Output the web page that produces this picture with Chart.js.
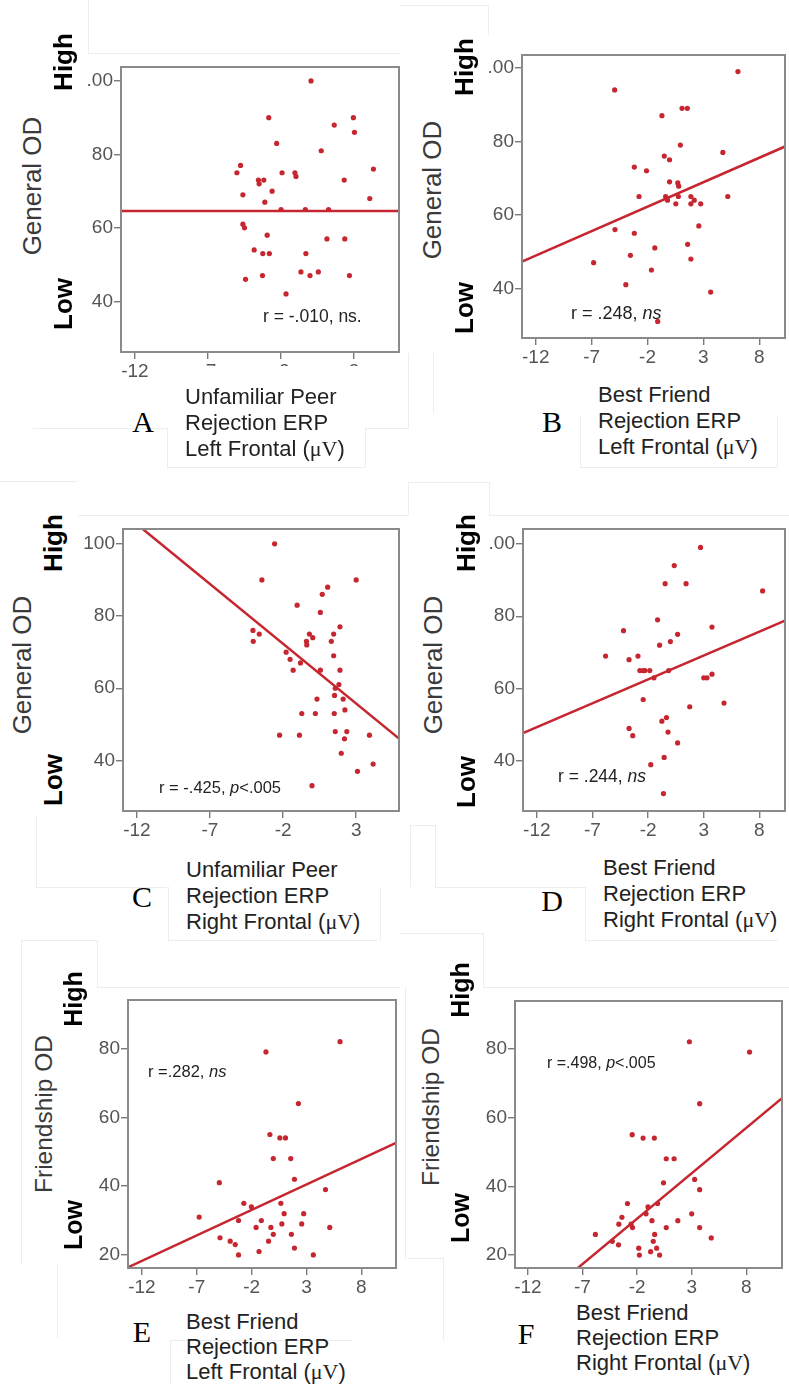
<!DOCTYPE html>
<html><head><meta charset="utf-8">
<script src="https://cdn.jsdelivr.net/npm/chart.js@4.4.0/dist/chart.umd.min.js"></script>
<style>
html,body{margin:0;padding:0;background:#fff;}
#page{position:relative;width:789px;height:1384px;overflow:hidden;background:#fff;font-family:'Liberation Sans',Arial,sans-serif;}
.pc{position:absolute;z-index:1;}
.t{position:absolute;white-space:nowrap;line-height:1;transform:translate(-50%,-50%);z-index:3;}
.rot{transform:translate(-50%,-50%) rotate(-90deg);}
.od{color:#3a3a3a;}
.hl{font-weight:bold;color:#000;}
.ttl{position:absolute;white-space:nowrap;font-size:22px;line-height:26px;color:#222;z-index:3;}
.sf{font-family:'Liberation Serif','Times New Roman',serif;}
.let{font-family:'Liberation Serif','Times New Roman',serif;font-size:30px;color:#000;}
.r{position:absolute;white-space:nowrap;line-height:1;color:#222;transform:translateY(-50%);z-index:3;}
.fl{position:absolute;background:#ededed;z-index:0;}
.wh{position:absolute;background:#fff;z-index:2;}
</style></head>
<body><div id="page"></div>
<script>
// ---------- DATA ----------
const xTicks4 = [-12, -7, -2, 3];
const xTicks5 = [-12, -7, -2, 3, 8];
const xLabels4 = ['-12', '-7', '-2', '3'];
const xLabels5 = ['-12', '-7', '-2', '3', '8'];
const yTicksGeneral = [40, 60, 80, 100];
const yLabelsGeneralCut = ['40', '60', '80', '.00'];
const yLabelsGeneral = ['40', '60', '80', '100'];
const yTicksFriend = [20, 40, 60, 80];
const yLabelsFriend = ['20', '40', '60', '80'];

// Panel A: Unfamiliar Peer, Left Frontal vs General OD
const aX = [0.05,-2.84,2.95,1.64,3.02,-2.30,0.75,-4.77,-5.02,-1.93,-1.05,-0.98,4.32,-3.55,-3.18,-3.5,2.32,-2.61,-4.61,4.07,-3.11,-2.0,-0.34,1.25,-4.61,-4.5,-2.95,1.14,2.36,-3.84,-3.25,-2.80,-0.30,-0.64,0.55,-0.02,-3.27,2.68,-4.43,-1.66];
const aY = [100,90,90,88,86,83,81,77,75,75,75,74,76,73,73,72,73,70,69,68,67,65,65,65,61,60,58,57,57,54,53,53,53,48,48,47,47,47,46,42];
const aFitX = [-12.95, 6.07];
const aFitY = [64.6, 64.6];

// Panel B: Best Friend, Left Frontal vs General OD
const bX = [6.09,-4.94,1.09,1.56,-0.71,0.94,4.74,-0.5,-0.03,-3.18,-2.09,-0.03,0.71,0.79,-2.76,-0.38,-0.21,0.76,1.88,2.18,5.18,0.53,1.88,2.76,2.59,-4.91,-3.18,1.59,-1.35,1.88,-3.53,-6.82,-1.65,-3.94,3.65,-1.09];
const bY = [99,94,89,89,87,79,77,76,75,73,72,69,68.7,67.8,65,65,64,65,65,64,65,63,63,63,57,56,55,52,51,48,49,47,45,41,39,31];
const bFitX = [-13.23, 10.3];
const bFitY = [47.3, 78.6];

// Panel C: Unfamiliar Peer, Right Frontal vs General OD
const cX = [-2.58,-3.45,3.0,1.05,0.68,-1.04,0.55,1.89,-4.06,-3.63,-0.2,0.03,1.46,-4.04,-0.4,-0.38,1.3,-1.79,-1.52,1.46,-0.81,-1.31,0.55,1.89,1.82,1.57,1.52,2.11,0.32,2.23,-0.72,0.21,1.5,2.36,1.57,-2.24,-0.88,3.91,2.2,1.98,4.16,3.09,-0.02];
const cY = [100,90,90,88,86,83,81,77,76,75,75,74,75,73,73,72,73,70,68,69,67,65,65,65,61,60,58,57,57,54,53,53,53,48,48,47,47,47,46,42,39,37,33];
const cFitX = [-11.6, 5.93];
const cFitY = [104.1, 46.05];

// Panel D: Best Friend, Right Frontal vs General OD
const dX = [2.71,0.35,-0.47,1.41,8.29,-1.15,3.74,-4.21,0.65,0.0,-0.97,-5.82,-2.91,-3.71,-2.74,-2.44,-2.29,-1.85,-0.15,-1.47,3.0,3.29,3.74,-2.44,1.74,4.82,-0.35,-0.76,-3.71,-3.38,-0.21,0.65,-0.56,-1.76,-0.62];
const dY = [99,94,89,89,87,79,77,76,75,73,72,69,69,68,65,65,65,65,65,63,63,63,64,57,55,56,52,51,49,47,48,45,41,39,31];
const dFitX = [-13.24, 10.3];
const dFitY = [47.7, 78.8];

// Panel E: Best Friend, Left Frontal vs Friendship OD
const eX = [6.07,-0.69,2.27,-0.33,0.58,1.09,-0.02,1.57,1.91,-4.94,4.74,-2.71,0.67,-2.02,-6.78,0.97,2.75,-3.19,-1.11,0.76,2.57,-1.59,-0.24,5.13,-0.02,1.63,-4.88,-3.95,-3.49,-0.45,1.91,-1.32,-3.19,3.63];
const eY = [82,79,64,55,54,54,48,48,42,41,39,35,35,34,31,32,32,30,30,29,29,28,28,28,26,26,25,24,23,24,22,21,20,20];
const eFitX = [-13.27, 11.17];
const eFitY = [16.4, 52.6];

// Panel F: Best Friend, Right Frontal vs Friendship OD
const fX = [2.79,8.3,3.73,-2.45,-1.45,-0.42,0.67,1.39,0.42,3.27,3.73,-2.88,-0.12,-1.0,-1.18,3.0,-3.39,-3.67,-2.55,-0.64,1.73,-2.42,0.67,3.73,-5.82,-0.39,4.79,-4.27,-0.52,-3.7,-1.85,-0.21,-0.76,-1.79,0.06];
const fY = [82,79,64,55,54,54,48,48,41,42,39,35,35,34,32,32,31,29,29,30,30,28,28,28,26,26,25,24,24,23,22,22,21,20,20];
const fFitX = [-7.45, 11.27];
const fFitY = [16.2, 65.6];

// ---------- LAYOUT ----------
const RED = '#c62630';
const FONT = "'Liberation Sans', Arial, sans-serif";
const YW = 46, XH = 30, PT = 2;
const page = document.getElementById('page');

const panels = [
  {box:{L:121,T:65,R:401,B:352}, xr:[-12.95,6.07], yr:[26.2,103.8], xt:xTicks4, xl:xLabels4, yt:yTicksGeneral, yl:yLabelsGeneralCut, px:aX, py:aY, lx:aFitX, ly:aFitY, edge:false},
  {box:{L:522,T:53,R:789,B:338}, xr:[-13.23,10.3], yr:[26.5,103.5], xt:xTicks5, xl:xLabels5, yt:yTicksGeneral, yl:yLabelsGeneralCut, px:bX, py:bY, lx:bFitX, ly:bFitY, edge:true},
  {box:{L:123,T:527,R:401,B:811}, xr:[-12.95,5.93], yr:[26.0,104.1], xt:xTicks4, xl:xLabels4, yt:yTicksGeneral, yl:yLabelsGeneral, px:cX, py:cY, lx:cFitX, ly:cFitY, edge:false},
  {box:{L:523,T:527,R:789,B:811}, xr:[-13.24,10.3], yr:[26.2,104.1], xt:xTicks5, xl:xLabels5, yt:yTicksGeneral, yl:yLabelsGeneralCut, px:dX, py:dY, lx:dFitX, ly:dFitY, edge:true},
  {box:{L:128,T:998,R:398,B:1268}, xr:[-13.27,11.17], yr:[16.2,94.1], xt:xTicks5, xl:xLabels5, yt:yTicksFriend, yl:yLabelsFriend, px:eX, py:eY, lx:eFitX, ly:eFitY, edge:false},
  {box:{L:515,T:999,R:784,B:1268}, xr:[-13.18,11.27], yr:[16.25,93.85], xt:xTicks5, xl:xLabels5, yt:yTicksFriend, yl:yLabelsFriend, px:fX, py:fY, lx:fFitX, ly:fFitY, edge:false}
];

const boxPlugin = {
  id: 'frame',
  afterDraw(chart) {
    const a = chart.chartArea, ctx = chart.ctx;
    ctx.save();
    ctx.strokeStyle = '#8a8a8a';
    ctx.lineWidth = 2;
    ctx.strokeRect(a.left, a.top, a.right - a.left, a.bottom - a.top);
    ctx.restore();
  }
};

function axis(min, max, ticks, labels, isX) {
  return {
    type: 'linear', min: min, max: max,
    afterBuildTicks: s => { s.ticks = ticks.map(v => ({value: v})); },
    afterFit: s => {
      if (isX) s.height = XH; else s.width = YW;
      s.paddingTop = 0; s.paddingBottom = 0; s.paddingLeft = 0; s.paddingRight = 0;
    },
    grid: {drawOnChartArea: false, drawTicks: true, tickLength: 7, color: '#7a7a7a', lineWidth: 1.4},
    border: {display: false},
    ticks: {
      autoSkip: false, maxRotation: 0, padding: 1,
      color: '#555', font: {family: FONT, size: 19},
      callback: v => { const i = ticks.indexOf(v); return i >= 0 ? labels[i] : ''; }
    }
  };
}

panels.forEach(p => {
  const padR = p.edge ? 0 : 2;
  const w = p.box.R - p.box.L + YW + padR;
  const h = p.box.B - p.box.T + PT + XH;
  const wrap = document.createElement('div');
  wrap.className = 'pc';
  wrap.style.left = (p.box.L - YW) + 'px';
  wrap.style.top = (p.box.T - PT) + 'px';
  wrap.style.width = w + 'px';
  wrap.style.height = h + 'px';
  const cv = document.createElement('canvas');
  cv.width = w; cv.height = h;
  cv.style.width = w + 'px'; cv.style.height = h + 'px';
  wrap.appendChild(cv);
  page.appendChild(wrap);
  new Chart(cv, {
    type: 'scatter',
    data: {datasets: [
      {data: p.px.map((x, i) => ({x: x, y: p.py[i]})), pointRadius: 2.6, pointBackgroundColor: RED, pointBorderWidth: 0, showLine: false},
      {data: p.lx.map((x, i) => ({x: x, y: p.ly[i]})), showLine: true, borderColor: RED, borderWidth: 2.5, pointRadius: 0, fill: false}
    ]},
    options: {
      responsive: false, animation: false, devicePixelRatio: 1, events: [],
      layout: {padding: {top: PT, right: padR, left: 0, bottom: 0}},
      plugins: {legend: {display: false}, tooltip: {enabled: false}},
      scales: {
        x: axis(p.xr[0], p.xr[1], p.xt, p.xl, true),
        y: axis(p.yr[0], p.yr[1], p.yt, p.yl, false)
      }
    },
    plugins: [boxPlugin]
  });
});

// ---------- TEXT ----------
function add(cls, html, x, y, size, extra) {
  const d = document.createElement('div');
  d.className = cls;
  d.innerHTML = html;
  d.style.left = x + 'px';
  d.style.top = y + 'px';
  if (size) d.style.fontSize = size + 'px';
  if (extra) Object.assign(d.style, extra);
  page.appendChild(d);
}
const mu = '(<span class="sf">μV</span>)';
const texts = [
  ['General OD',32,186,26, 63,62, 63,304,26, 'A',143,422, ['Unfamiliar Peer','Rejection ERP','Left Frontal '+mu],185,384,26, 'r = -.010, ns.',263,317,17.5],
  ['General OD',432,190,26, 464,67, 464,308,26, 'B',552,422, ['Best Friend','Rejection ERP','Left Frontal '+mu],598,382,26, 'r = .248, <i>ns</i>',571,313,18],
  ['General OD',22,665,26, 53,543, 53,780,26, 'C',142,897, ['Unfamiliar Peer','Rejection ERP','Right Frontal '+mu],186,857,26, 'r = -.425, <i>p</i>&lt;.005',159,787,16.5],
  ['General OD',433,665,26, 466,543, 466,782,26, 'D',552,901, ['Best Friend','Rejection ERP','Right Frontal '+mu],603,855,26, 'r = .244, <i>ns</i>',558,777,17.5],
  ['Friendship OD',44,1114,24.5, 73,999, 73,1225,25, 'E',142,1332, ['Best Friend','Rejection ERP','Left Frontal '+mu],186,1309,25, 'r =.282, <i>ns</i>',148,1071,16.5],
  ['Friendship OD',431,1107,24.5, 460,990, 460,1218,25, 'F',526,1334, ['Best Friend','Rejection ERP','Right Frontal '+mu],576,1300,25, 'r =.498, <i>p</i>&lt;.005',547,1063,16]
];
texts.forEach(t => {
  add('t rot od', t[0], t[1], t[2], t[3]);
  add('t rot hl', 'High', t[4], t[5], t[8]);
  add('t rot hl', 'Low', t[6], t[7], t[8]);
  add('t let', t[9], t[10], t[11]);
  add('ttl', t[12].join('<br>'), t[13], t[14], null, {lineHeight: t[15] + 'px'});
  add('r', t[16], t[17], t[18], t[19]);
});

// white text-box covering part of panel A's tick labels
add('wh', '', 165, 366, null, {width: '235px', height: '16px'});

// faint text-box outlines
const faint = [
  [88,0,88,53],[88,53,400,53],
  [400,5,488,5],[488,5,488,35],
  [408,353,408,428],[400,428,408,428],[433,353,433,413],
  [580,417,580,467],[580,467,777,467],[777,417,777,467],
  [33,428,167,428],[167,428,167,467],[167,467,365,467],[365,428,365,467],[365,428,400,428],
  [0,481,77,481],[78,515,400,515],
  [36,817,36,887],[36,887,167,887],[168,887,168,940],[168,940,378,940],[380,887,380,940],
  [408,482,489,482],[408,482,408,515],[489,482,489,515],[400,515,408,515],[489,515,789,515],
  [410,825,410,887],[410,825,435,825],[435,825,435,887],[435,887,585,887],[585,887,585,940],[585,940,778,940],
  [21,940,21,1265],[21,940,97,940],[97,940,97,987],[97,987,400,987],[57,1265,57,1338],
  [170,1340,170,1384],[170,1340,353,1340],
  [400,933,483,933],[483,933,483,987],[483,987,789,987],[405,987,405,1258],[408,1258,443,1258],[443,1258,443,1340]
];
faint.forEach(s => {
  const d = document.createElement('div');
  d.className = 'fl';
  const x = Math.min(s[0], s[2]), y = Math.min(s[1], s[3]);
  d.style.left = x + 'px'; d.style.top = y + 'px';
  d.style.width = Math.max(1, Math.abs(s[2] - s[0])) + 'px';
  d.style.height = Math.max(1, Math.abs(s[3] - s[1])) + 'px';
  page.appendChild(d);
});
</script>
</body></html>
